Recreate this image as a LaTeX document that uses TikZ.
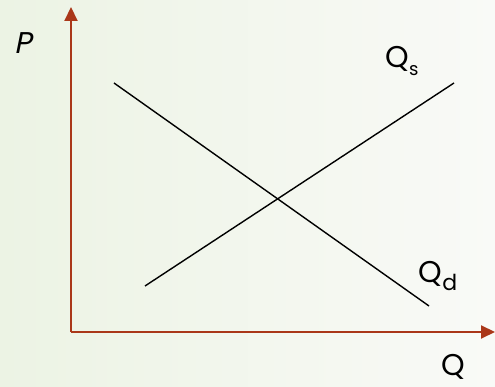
\documentclass[tikz,border=0pt]{standalone}
\usepackage{fontspec}
\setmainfont{Poppins}
\newfontfamily\slantfont[FakeSlant=0.2]{Poppins}
\usepackage{tikz}
\usetikzlibrary{arrows.meta}
\usepackage{xcolor}
\definecolor{bgleft}{RGB}{236,243,228}
\definecolor{bgright}{RGB}{249,250,247}
\definecolor{axisred}{RGB}{170,55,25}

\begin{document}
\begin{tikzpicture}[x=1pt, y=1pt, >={Triangle[length=14pt, width=13pt]},
    axis/.style={->, axisred, line width=2pt},
    curve/.style={black, line width=1.4pt},
    lbl/.style={font=\fontsize{30}{30}\selectfont, inner sep=0pt}]
        % Background (pale green wash)
        \shade[left color=bgleft, right color=bgright] (0,0) rectangle (495,387);
        \useasboundingbox (0,0) rectangle (495,387);
        % Axes
        \coordinate (origin) at (71,55);
        \coordinate (ytop) at (71,380);
        \coordinate (xend) at (495,55);
        \draw[axis] (origin) -- (ytop);
        \draw[axis] (origin) -- (xend);
        % Demand and supply
        \coordinate (dstart) at (114,304);
        \coordinate (dend) at (429,81);
        \coordinate (sstart) at (145,101);
        \coordinate (send) at (454,304);
        \draw[curve] (dstart) -- (dend);
        \draw[curve] (sstart) -- (send);
        % Labels
        \node[lbl] (plabel) at (23,344) {\slantfont P};
        \node[lbl] (qslabel) at (402,326) {Q\raisebox{-8pt}{\fontsize{18}{18}\selectfont s}};
        \node[lbl] (qdlabel) at (438,111) {Q\raisebox{-8pt}{\fontsize{22}{22}\selectfont d}};
        \node[lbl] (qlabel) at (453,20) {Q};
      \end{tikzpicture}
\end{document}
